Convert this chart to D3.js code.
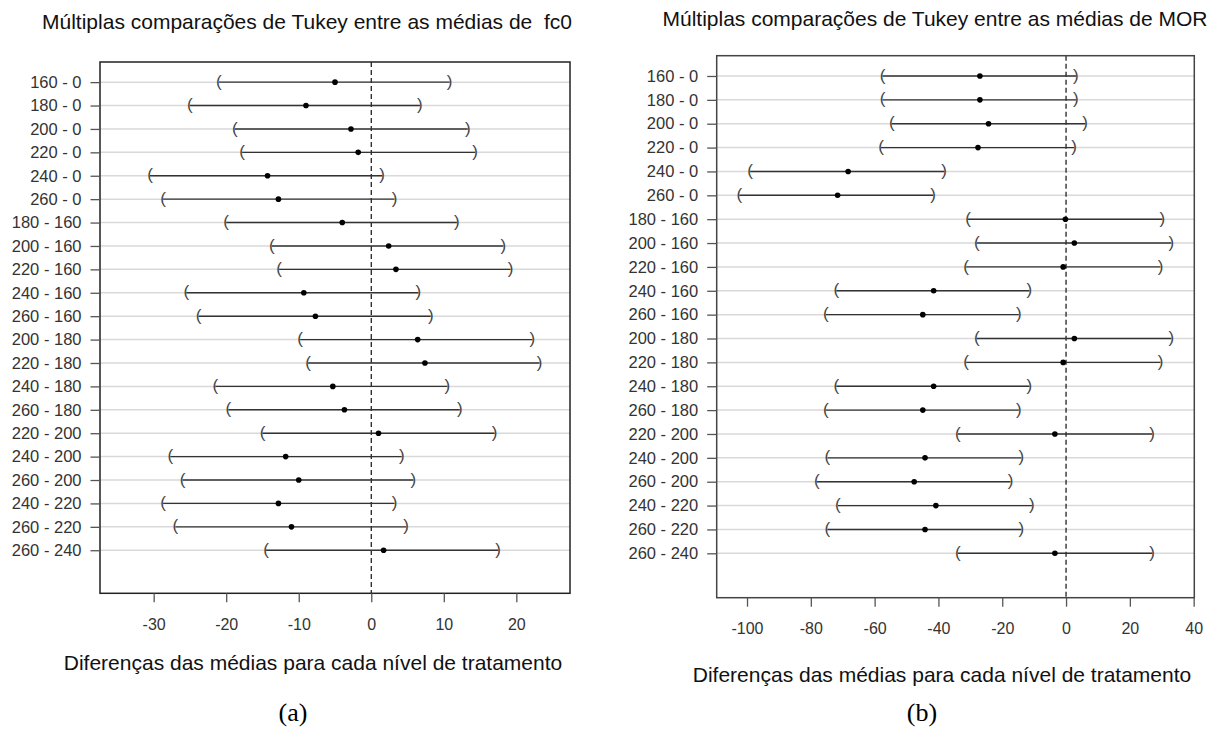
<!DOCTYPE html>
<html>
<head>
<meta charset="utf-8">
<script src="https://cdn.jsdelivr.net/npm/d3@7"></script>
<style>
  body { margin: 0; background: #fff; }
  svg { display: block; }
</style>
</head>
<body>
<svg id="chart" width="1216" height="740"></svg>
<script>
// Pairwise comparisons between treatment levels (Tukey HSD)
const comparisons = [
  "160 - 0", "180 - 0", "200 - 0", "220 - 0", "240 - 0", "260 - 0",
  "180 - 160", "200 - 160", "220 - 160", "240 - 160", "260 - 160",
  "200 - 180", "220 - 180", "240 - 180", "260 - 180",
  "220 - 200", "240 - 200", "260 - 200",
  "240 - 220", "260 - 220",
  "260 - 240"
];

// fc0: lower bound, mean difference, upper bound
const fc0Lower = [-21.0, -25.0, -18.8, -17.8, -30.5, -28.7, -20.0, -13.7, -12.7, -25.5, -23.8,
                  -9.8, -8.7, -21.5, -19.7, -15.0, -27.7, -26.0, -28.7, -27.0, -14.5];
const fc0Diff  = [-5.0, -9.0, -2.8, -1.8, -14.3, -12.8, -4.0, 2.4, 3.4, -9.3, -7.7,
                  6.4, 7.4, -5.3, -3.7, 1.0, -11.8, -10.0, -12.8, -11.0, 1.7];
const fc0Upper = [10.8, 6.7, 13.3, 14.3, 1.5, 3.2, 11.8, 18.2, 19.2, 6.5, 8.2,
                  22.2, 23.2, 10.5, 12.2, 17.0, 4.2, 5.8, 3.2, 4.8, 17.5];

// MOR: lower bound, mean difference, upper bound
const morLower = [-57.5, -57.5, -54.6, -58.0, -99.0, -102.4, -30.7, -28.0, -31.3, -72.0, -75.3,
                  -28.0, -31.3, -72.0, -75.3, -33.9, -74.8, -78.1, -71.5, -74.8, -33.9];
const morDiff  = [-27.0, -27.0, -24.3, -27.6, -68.3, -71.6, -0.2, 2.6, -0.9, -41.5, -44.9,
                  2.6, -0.9, -41.5, -44.9, -3.5, -44.2, -47.6, -40.8, -44.2, -3.5];
const morUpper = [3.1, 3.1, 6.0, 2.5, -38.2, -41.7, 30.2, 33.0, 29.6, -11.5, -14.8,
                  33.0, 29.6, -11.5, -14.8, 27.0, -14.0, -17.4, -10.7, -14.0, 27.0];

const fc0Ticks = [-30, -20, -10, 0, 10, 20];
const morTicks = [-100, -80, -60, -40, -20, 0, 20, 40];

const fc0Title = "Múltiplas comparações de Tukey entre as médias de  fc0";
const morTitle = "Múltiplas comparações de Tukey entre as médias de MOR";
const xAxisTitle = "Diferenças das médias para cada nível de tratamento";
const panelTags = ["(a)", "(b)"];

const svg = d3.select("#chart");
const sans = "'Liberation Sans', Arial, sans-serif";

function drawPanel(cfg) {
  const g = svg.append("g");
  const { left, right, top, bottom } = cfg.box;

  const x = d3.scaleLinear().domain(cfg.xDomain).range([left, right]);
  const y = d3.scaleLinear().domain(cfg.yDomain).range([top, bottom]);
  const rows = d3.range(comparisons.length);

  // light horizontal guide at each comparison
  g.append("g").selectAll("line").data(rows).join("line")
    .attr("x1", left).attr("x2", right)
    .attr("y1", i => y(i)).attr("y2", i => y(i))
    .attr("stroke", "#d9d9d9").attr("stroke-width", 1.5);

  // zero reference
  g.append("line")
    .attr("x1", x(0)).attr("x2", x(0)).attr("y1", top).attr("y2", bottom)
    .attr("stroke", "#111").attr("stroke-width", 1.2)
    .attr("stroke-dasharray", "5,3");

  // confidence intervals
  g.append("g").selectAll("line").data(rows).join("line")
    .attr("x1", i => x(cfg.lower[i])).attr("x2", i => x(cfg.upper[i]))
    .attr("y1", i => y(i)).attr("y2", i => y(i))
    .attr("stroke", "#333").attr("stroke-width", 1.4);

  const parens = g.append("g")
    .attr("font-family", sans).attr("font-size", 17)
    .attr("fill", "#444").attr("text-anchor", "middle");
  parens.selectAll("text.lo").data(rows).join("text").attr("class", "lo")
    .attr("x", i => x(cfg.lower[i])).attr("y", i => y(i) + 4.6).text("(");
  parens.selectAll("text.hi").data(rows).join("text").attr("class", "hi")
    .attr("x", i => x(cfg.upper[i])).attr("y", i => y(i) + 4.6).text(")");

  g.append("g").selectAll("circle").data(rows).join("circle")
    .attr("cx", i => x(cfg.diff[i])).attr("cy", i => y(i))
    .attr("r", 2.8).attr("fill", "#000");

  // frame
  g.append("rect")
    .attr("x", left).attr("y", top)
    .attr("width", right - left).attr("height", bottom - top)
    .attr("fill", "none").attr("stroke", cfg.frameColor).attr("stroke-width", 1.5);

  // axes
  const yAxis = d3.axisLeft(y).tickValues(rows)
    .tickFormat(i => comparisons[i]).tickSize(9.5).tickPadding(9);
  const ya = g.append("g").attr("transform", `translate(${left},0)`).call(yAxis);
  ya.select(".domain").remove();

  const xAxis = d3.axisBottom(x).tickValues(cfg.ticks)
    .tickFormat(v => String(v)).tickSize(9).tickPadding(16);
  const xa = g.append("g").attr("transform", `translate(0,${bottom})`).call(xAxis);
  xa.select(".domain").remove();

  ya.attr("font-family", sans).attr("font-size", 16.5);
  xa.attr("font-family", sans).attr("font-size", 16);
  [ya, xa].forEach(a => {
    a.selectAll(".tick line").attr("stroke", "#555").attr("stroke-width", 1.3);
    a.selectAll(".tick text").attr("fill", "#333");
  });

  // titles
  g.append("text")
    .attr("x", cfg.titleX).attr("y", cfg.titleY)
    .attr("text-anchor", "middle").attr("font-family", sans).attr("font-size", 21)
    .style("white-space", "pre").attr("fill", "#111")
    .text(cfg.title);

  g.append("text")
    .attr("x", cfg.xLabelX).attr("y", cfg.xLabelY)
    .attr("text-anchor", "middle").attr("font-family", sans).attr("font-size", 21)
    .attr("fill", "#111").text(xAxisTitle);

  g.append("text")
    .attr("x", cfg.tagX).attr("y", 721)
    .attr("text-anchor", "middle")
    .attr("font-family", "'Liberation Serif', 'Times New Roman', serif")
    .attr("font-size", 26).attr("fill", "#000")
    .text(cfg.tag);
}

drawPanel({
  box: { left: 100, right: 570, top: 62, bottom: 593.3 },
  xDomain: [-37.4, 27.4],
  yDomain: [-0.86, 21.84],
  lower: fc0Lower, diff: fc0Diff, upper: fc0Upper,
  ticks: fc0Ticks,
  frameColor: "#222",
  title: fc0Title, titleX: 307, titleY: 29,
  xLabelX: 313, xLabelY: 670,
  tag: panelTags[0], tagX: 293
});

drawPanel({
  box: { left: 716.7, right: 1194.3, top: 55.7, bottom: 597.7 },
  xDomain: [-109.5, 40.2],
  yDomain: [-0.85, 21.86],
  lower: morLower, diff: morDiff, upper: morUpper,
  ticks: morTicks,
  frameColor: "#444",
  title: morTitle, titleX: 935, titleY: 26,
  xLabelX: 942, xLabelY: 682,
  tag: panelTags[1], tagX: 922
});
</script>
</body>
</html>
